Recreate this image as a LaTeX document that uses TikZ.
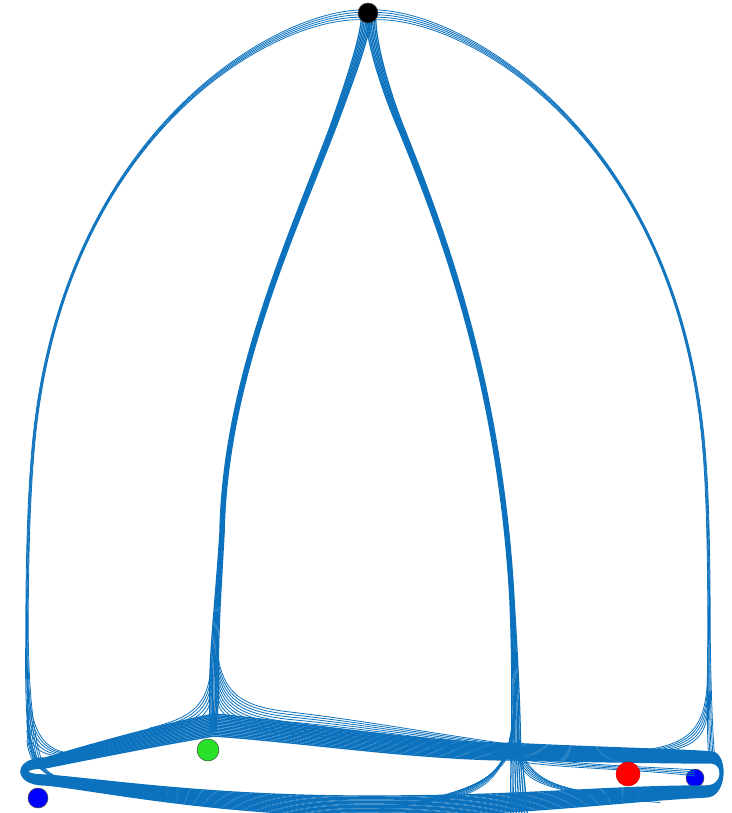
\documentclass[tikz,border=0pt]{standalone}
\definecolor{mblue}{RGB}{12,114,189}
\definecolor{dgreen}{RGB}{40,225,40}
\begin{document}
\begin{tikzpicture}[x=1pt,y=-1pt,
  traj/.style={draw=mblue, line width=0.8pt},
  stem/.style={draw=mblue, line width=1.3pt},
  band/.style={draw=mblue, line width=1.4pt},
  dot/.style={circle, draw=black!70, line width=0.5pt, inner sep=0pt}]
\useasboundingbox (0,0) rectangle (731,813);
\clip (0,0) rectangle (731,813);
\node[dot, fill=blue, minimum size=18pt] (b2) at (695,778) {};
% outer left arc
\foreach \i in {-2,...,2} {
  \draw[traj] (366,15+\i*2.5) .. controls (280,10+\i*1.5) and (60+\i*0.5,130) .. (33+\i*0.6,450) .. controls (30+\i*0.6,485) and (27+\i*0.6,540) .. (27+\i*0.6,633) .. controls (27+\i,700) and (30+\i*2,740) .. (40+\i*2,768);
}
% outer right arc
\foreach \i in {-2,...,2} {
  \draw[traj] (371,15+\i*2.5) .. controls (458,10+\i*1.5) and (678-\i*0.5,130) .. (704-\i*0.6,450) .. controls (707-\i*0.6,485) and (709-\i*0.6,540) .. (709-\i*0.6,633) .. controls (709-\i,700) and (710-\i*1.5,740) .. (712-\i*1.5,762);
}
% inner left stem
\foreach \i in {-3,...,3} {
  \draw[stem] (366+\i*1.6,20) .. controls (364+\i*1.5,40) and (350+\i*1.2,80) .. (333+\i*1.0,127) .. controls (290+\i*0.8,240) and (225+\i*0.7,380) .. (222+\i*0.7,533) .. controls (218+\i*0.8,600) and (214+\i*1.2,640) .. (214+\i*1.5,690) .. controls (214+\i*1.5,710) and (213+\i,720) .. (213+\i,732);
}
% inner right stem
\foreach \i in {-3,...,3} {
  \draw[stem] (371+\i*1.6,20) .. controls (372+\i*1.5,45) and (385+\i*1.2,90) .. (403+\i,133) .. controls (440+\i*0.8,225) and (500+\i*0.7,380) .. (512+\i*0.7,600) .. controls (514+\i*0.8,640) and (516+\i*1.2,690) .. (516+\i*1.5,740) .. controls (517+\i*2,770) and (518+\i*2.5,790) .. (519+\i*2.8,813);
}
% bottom loop
\foreach \k in {0,...,15} {
  \draw[band] (45,768-0.66*\k) .. controls (100,757-1.03*\k) and (160,745-1.32*\k) .. (214,736-1.47*\k)
    .. controls (300,742-1.32*\k) and (420,760-1.17*\k) .. (515,760-1.1*\k)
    .. controls (600,762-0.95*\k) and (690,763-0.88*\k) .. (712,763-0.73*\k)
    .. controls (724+0.22*\k,764-0.73*\k) and (724+0.22*\k,786+0.73*\k) .. (706,786+0.73*\k)
    .. controls (600,786+1.1*\k) and (520,797+1.32*\k) .. (350,796+1.32*\k)
    .. controls (200,795+1.17*\k) and (90,778+0.73*\k) .. (45,775+0.66*\k)
    .. controls (22-0.6*\k,775+0.66*\k) and (22-0.6*\k,768-0.66*\k) .. (45,768-0.66*\k);
}
% green stem right fan
\foreach \j in {0,...,9} {
  \draw[traj] (216,630+7*\j) .. controls (217,690+3*\j) and (235,706+2.5*\j) .. (290,712+2.5*\j) .. controls (360,720+2*\j) and (430,733+1.5*\j) .. (515,745+1.2*\j);
}
% green stem left fan
\foreach \j in {0,...,4} {
  \draw[traj] (212,650+10*\j) .. controls (211,700+4*\j) and (200,716+2*\j) .. (150,728+2*\j);
}
% right stem left fan
\foreach \j in {0,...,8} {
  \draw[traj] (514,690+5*\j) .. controls (513,760+2*\j) and (500-3*\j,792) .. (440-8*\j,800+1.2*\j);
}
% right stem right fan
\foreach \j in {0,...,5} {
  \draw[traj] (518,730+5*\j) .. controls (521,770+2*\j) and (540,788+\j) .. (610+10*\j,795+1.5*\j);
}
% pocket top lines
\foreach \j in {0,...,3} {
  \draw[traj] (518,752+3*\j) .. controls (550,765+\j) and (640,766+\j) .. (695,770+2*\j);
}
% outer right flare
\foreach \j in {0,...,4} {
  \draw[traj] (708,660+10*\j) .. controls (708,730+3*\j) and (695,748+\j) .. (620,752+\j);
}
% outer left flare
\foreach \j in {0,...,4} {
  \draw[traj] (27,660+15*\j) .. controls (28,730+5*\j) and (40,760) .. (90,752+\j);
  \draw[traj] (27,700+10*\j) .. controls (28,760) and (40,780) .. (90,785+\j);
}
\node[dot, fill=black, minimum size=20pt] (top) at (368,13) {};
\node[dot, fill=dgreen, minimum size=22pt] (g) at (208,750) {};
\node[dot, fill=red, draw=red!80!black, minimum size=24pt] (r) at (628,774) {};
\node[dot, fill=blue, minimum size=20pt] (b1) at (38,798) {};
\end{tikzpicture}
\end{document}
